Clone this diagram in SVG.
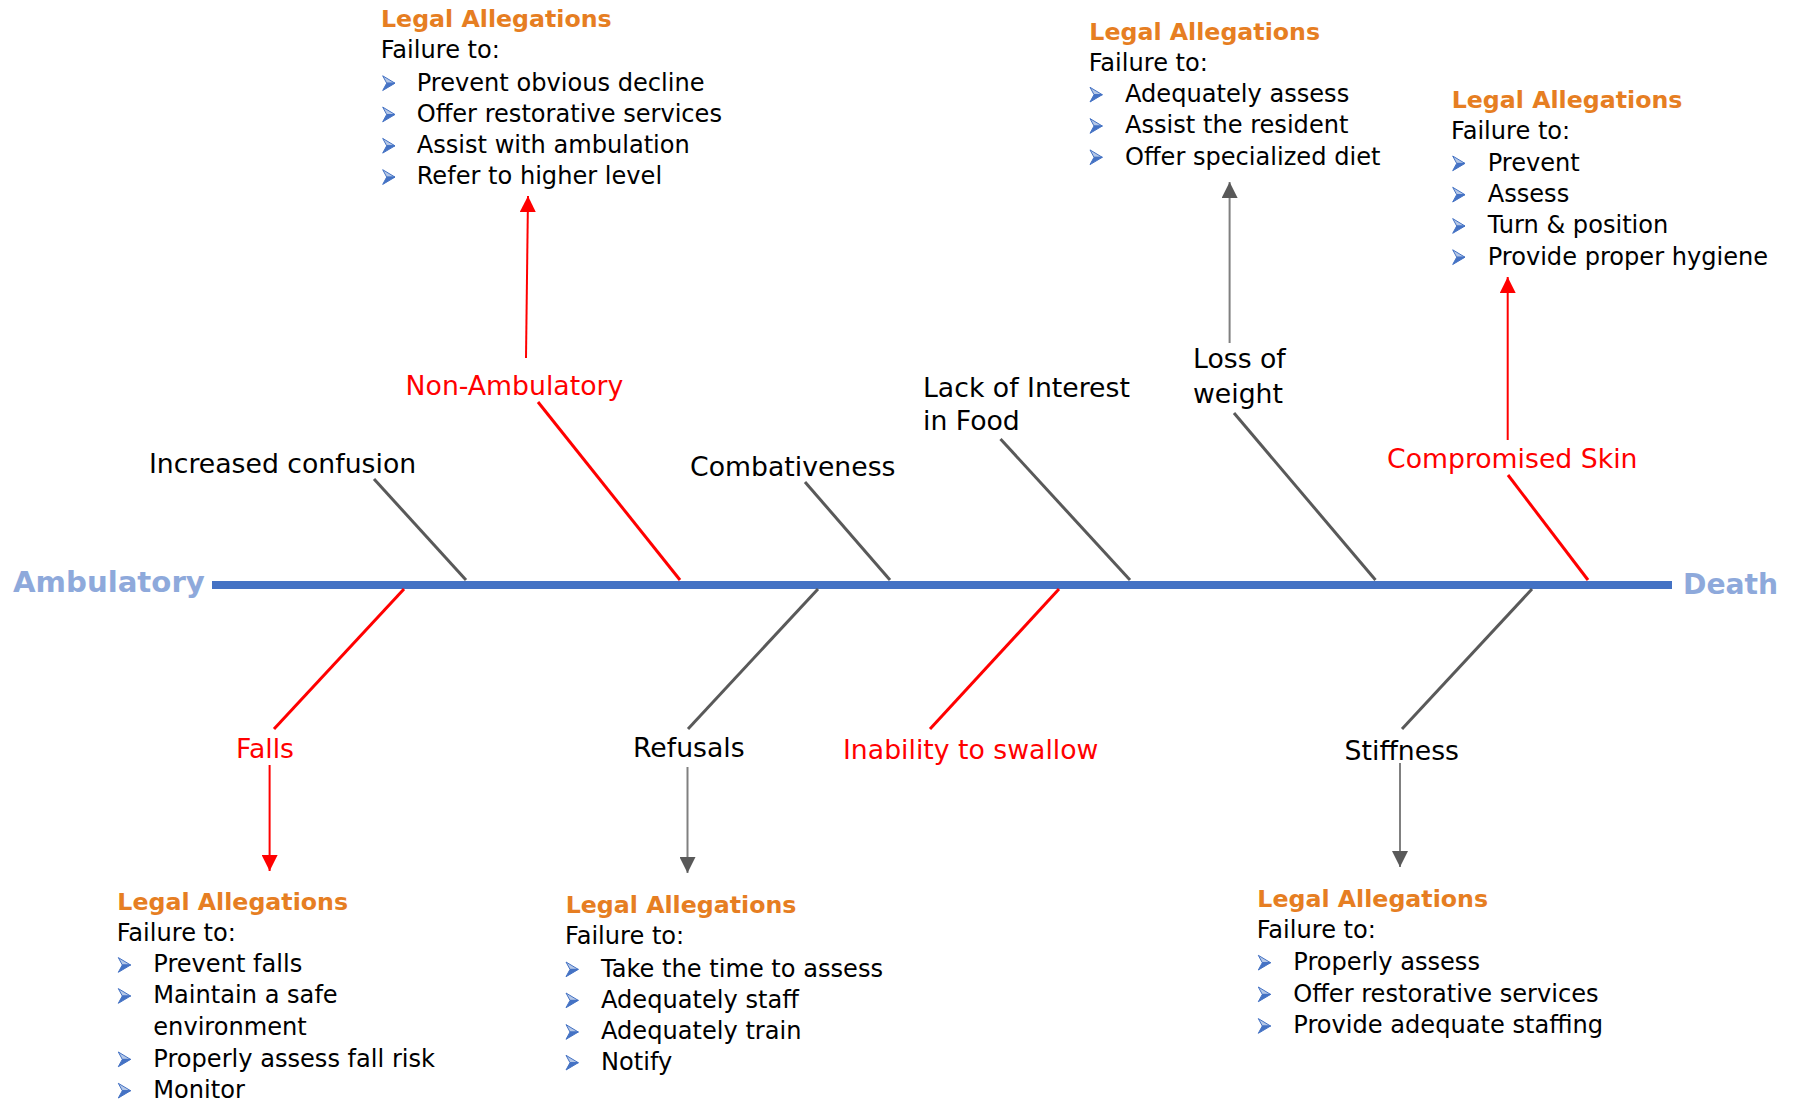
<svg xmlns="http://www.w3.org/2000/svg" xmlns:xlink="http://www.w3.org/1999/xlink" width="1794" height="1101" viewBox="0 0 1794 1101">
<style>
text{font-family:"DejaVu Sans",Verdana,sans-serif;fill:#000}
.lbl{font-size:26.7px}
.red{fill:#FF0000}
.hd{font-size:23.7px;font-weight:bold;fill:#E67E22}
.tx{font-size:24.1px}
.end{font-weight:bold;fill:#8EA9DB}
.bone{stroke-width:3;fill:none}
.rb{stroke:#FF0000}
.gb{stroke:#595959}
.ra{stroke:#FF0000;stroke-width:2;marker-end:url(#ahr)}
.ga{stroke:#808080;stroke-width:2;marker-end:url(#ahg)}
</style>
<defs>
<marker id="ahr" markerUnits="userSpaceOnUse" markerWidth="16" markerHeight="16" refX="16" refY="8" orient="auto"><path d="M0,0 L16,8 L0,16 z" fill="#FF0000"/></marker>
<marker id="ahg" markerUnits="userSpaceOnUse" markerWidth="16" markerHeight="16" refX="16" refY="8" orient="auto"><path d="M0,0 L16,8 L0,16 z" fill="#595959"/></marker>
<g id="blt"><polygon points="0,-14.7 12.3,-7.3 4,-7.3" fill="#B4C7E7" stroke="#4472C4" stroke-width="1"/><polygon points="4,-7.3 12.3,-7.3 0,0" fill="#4472C4" stroke="#4472C4" stroke-width="1"/></g>
</defs>
<rect width="1794" height="1101" fill="#FFFFFF"/>

<g id="spine">
<line x1="212" y1="585" x2="1672" y2="585" stroke="#4472C4" stroke-width="8"/>
</g>
<g id="start"><text class="end" x="13" y="592" font-size="29.2">Ambulatory</text></g>
<g id="end"><text class="end" x="1683" y="594" font-size="28.2">Death</text></g>

<g id="connectors">
<line class="bone gb" x1="374" y1="479" x2="466" y2="580"/>
<line class="bone rb" x1="538" y1="402" x2="680" y2="580"/>
<line class="bone gb" x1="805" y1="482" x2="890" y2="580"/>
<line class="bone gb" x1="1000.5" y1="439" x2="1130" y2="580"/>
<line class="bone gb" x1="1234" y1="413" x2="1375.5" y2="580"/>
<line class="bone rb" x1="1508" y1="475" x2="1588" y2="580"/>
<line class="bone rb" x1="404" y1="589" x2="274" y2="729"/>
<line class="bone gb" x1="818" y1="589" x2="688" y2="729"/>
<line class="bone rb" x1="1059" y1="589" x2="930" y2="729"/>
<line class="bone gb" x1="1532" y1="589" x2="1402" y2="729"/>
<line class="ra" x1="526" y1="358" x2="528" y2="196"/>
<line class="ga" x1="1229.6" y1="343" x2="1229.6" y2="182"/>
<line class="ra" x1="1507.7" y1="440" x2="1507.7" y2="277"/>
<line class="ra" x1="269.6" y1="765" x2="269.6" y2="871"/>
<line class="ga" x1="687.5" y1="767" x2="687.5" y2="873"/>
<line class="ga" x1="1400" y1="763" x2="1400" y2="867"/>
</g>

<g id="increased-confusion"><text class="lbl" x="149" y="473">Increased confusion</text></g>
<g id="non-ambulatory"><text class="lbl red" x="405.6" y="395">Non-Ambulatory</text></g>
<g id="combativeness"><text class="lbl" x="690" y="476">Combativeness</text></g>
<g id="lack-of-interest"><text class="lbl" x="923" y="396.7">Lack of Interest</text><text class="lbl" x="923" y="430">in Food</text></g>
<g id="loss-of-weight"><text class="lbl" x="1193" y="367.7">Loss of</text><text class="lbl" x="1193" y="403.3">weight</text></g>
<g id="compromised-skin"><text class="lbl red" x="1387" y="468.3">Compromised Skin</text></g>
<g id="falls"><text class="lbl red" x="236" y="758.3">Falls</text></g>
<g id="refusals"><text class="lbl" x="633" y="756.7">Refusals</text></g>
<g id="inability"><text class="lbl red" x="843" y="759">Inability to swallow</text></g>
<g id="stiffness"><text class="lbl" x="1344.6" y="760">Stiffness</text></g>

<g id="legal-non-ambulatory">
<text class="hd" x="381" y="27">Legal Allegations</text>
<text class="tx" x="380.7" y="58">Failure to:</text>
<use xlink:href="#blt" x="382.7" y="90.5"/><text class="tx" x="416.7" y="90.5">Prevent obvious decline</text>
<use xlink:href="#blt" x="382.7" y="121.8"/><text class="tx" x="416.7" y="121.8">Offer restorative services</text>
<use xlink:href="#blt" x="382.7" y="153.1"/><text class="tx" x="416.7" y="153.1">Assist with ambulation</text>
<use xlink:href="#blt" x="382.7" y="184.4"/><text class="tx" x="416.7" y="184.4">Refer to higher level</text>
</g>

<g id="legal-loss-of-weight">
<text class="hd" x="1089.3" y="40">Legal Allegations</text>
<text class="tx" x="1088.7" y="71">Failure to:</text>
<use xlink:href="#blt" x="1090" y="102"/><text class="tx" x="1125" y="102">Adequately assess</text>
<use xlink:href="#blt" x="1090" y="133.3"/><text class="tx" x="1125" y="133.3">Assist the resident</text>
<use xlink:href="#blt" x="1090" y="164.6"/><text class="tx" x="1125" y="164.6">Offer specialized diet</text>
</g>

<g id="legal-compromised-skin">
<text class="hd" x="1451.7" y="107.7">Legal Allegations</text>
<text class="tx" x="1451" y="139.3">Failure to:</text>
<use xlink:href="#blt" x="1452.7" y="170.7"/><text class="tx" x="1487.7" y="170.7">Prevent</text>
<use xlink:href="#blt" x="1452.7" y="202"/><text class="tx" x="1487.7" y="202">Assess</text>
<use xlink:href="#blt" x="1452.7" y="233.3"/><text class="tx" x="1487.7" y="233.3">Turn &amp; position</text>
<use xlink:href="#blt" x="1452.7" y="264.5"/><text class="tx" x="1487.7" y="264.5">Provide proper hygiene</text>
</g>

<g id="legal-falls">
<text class="hd" x="117.3" y="910">Legal Allegations</text>
<text class="tx" x="116.7" y="940.7">Failure to:</text>
<use xlink:href="#blt" x="118.3" y="972.3"/><text class="tx" x="153.3" y="972.3">Prevent falls</text>
<use xlink:href="#blt" x="118.3" y="1003.3"/><text class="tx" x="153.3" y="1003.3">Maintain a safe</text>
<text class="tx" x="153.3" y="1035">environment</text>
<use xlink:href="#blt" x="118.3" y="1066.7"/><text class="tx" x="153.3" y="1066.7">Properly assess fall risk</text>
<use xlink:href="#blt" x="118.3" y="1098"/><text class="tx" x="153.3" y="1098">Monitor</text>
</g>

<g id="legal-refusals">
<text class="hd" x="565.7" y="913.3">Legal Allegations</text>
<text class="tx" x="565" y="944">Failure to:</text>
<use xlink:href="#blt" x="566" y="976.7"/><text class="tx" x="601" y="976.7">Take the time to assess</text>
<use xlink:href="#blt" x="566" y="1007.7"/><text class="tx" x="601" y="1007.7">Adequately staff</text>
<use xlink:href="#blt" x="566" y="1039.3"/><text class="tx" x="601" y="1039.3">Adequately train</text>
<use xlink:href="#blt" x="566" y="1070"/><text class="tx" x="601" y="1070">Notify</text>
</g>

<g id="legal-stiffness">
<text class="hd" x="1257.3" y="906.7">Legal Allegations</text>
<text class="tx" x="1256.7" y="938.3">Failure to:</text>
<use xlink:href="#blt" x="1258.3" y="970"/><text class="tx" x="1293.3" y="970">Properly assess</text>
<use xlink:href="#blt" x="1258.3" y="1001.7"/><text class="tx" x="1293.3" y="1001.7">Offer restorative services</text>
<use xlink:href="#blt" x="1258.3" y="1033.3"/><text class="tx" x="1293.3" y="1033.3">Provide adequate staffing</text>
</g>
</svg>
